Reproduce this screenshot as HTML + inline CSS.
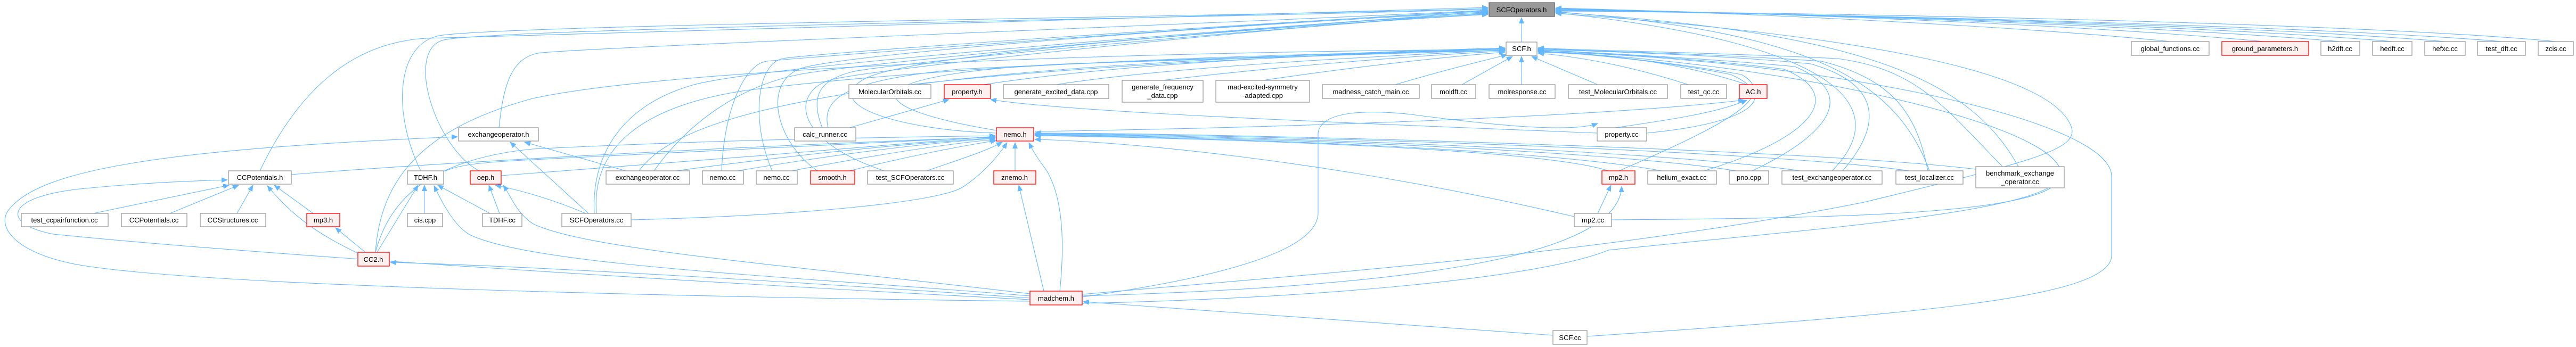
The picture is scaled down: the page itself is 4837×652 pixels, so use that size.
<!DOCTYPE html>
<html><head><meta charset="utf-8"><style>
html,body{margin:0;padding:0;background:#fff;}
svg{display:block;}
text{font-family:"Liberation Sans","DejaVu Sans",sans-serif;font-size:13px;fill:#000;text-anchor:middle;}
.e{fill:none;stroke:#63b8ff;stroke-width:1.1;marker-end:url(#a);}
.n{fill:#fff;stroke:#999;stroke-width:1.3;}
.r{fill:#fff0f0;stroke:#f00;stroke-width:1.3;}
.g{fill:#999;stroke:#666;stroke-width:1.3;}
</style></head><body>
<svg width="4837" height="652" viewBox="0 0 4837 652" xmlns="http://www.w3.org/2000/svg">
<defs><marker id="a" markerUnits="userSpaceOnUse" markerWidth="12" markerHeight="10" refX="11" refY="5" orient="auto"><path d="M0,0 L12,5 L0,10 z" fill="#63b8ff"/></marker></defs>

<!-- edges to SCFOperators.h -->
<path class="e" d="M2857,79 L2857,33"/>
<path class="e" d="M488,321 C560,170 660,80 800,72 S2400,30 2794,14"/>
<path class="e" d="M790,321 C740,220 740,90 820,68 S2400,30 2794,16"/>
<path class="e" d="M900,321 C820,280 760,100 830,76 S2400,32 2794,17"/>
<path class="e" d="M937,240 C945,160 960,110 1010,100 S2400,40 2794,19"/>
<path class="e" d="M1116,401 C1110,300 1160,200 1300,160 S2400,50 2794,22"/>
<path class="e" d="M1355,321 C1360,200 1400,120 1440,115 S2400,40 2794,20"/>
<path class="e" d="M1450,321 C1410,230 1420,120 1470,110 S2400,40 2794,21"/>
<path class="e" d="M1535,321 C1460,270 1430,160 1500,130 S2400,40 2794,23"/>
<path class="e" d="M1660,321 C1480,260 1490,170 1560,150 S2400,50 2794,24"/>
<path class="e" d="M1228,321 C1300,220 1400,160 1500,140 S2400,45 2794,25"/>
<path class="e" d="M1544,240 C1520,180 1540,150 1600,135 S2400,50 2794,26"/>
<path class="e" d="M1871,250 C1700,245 1540,200 1620,150 S2400,50 2794,27"/>
<path class="e" d="M4075,78 C3800,50 3300,25 2921,15"/>
<path class="e" d="M4250,78 C3900,45 3300,24 2921,16"/>
<path class="e" d="M4394,78 C4000,45 3300,24 2921,17"/>
<path class="e" d="M4492,78 C4100,45 3300,24 2921,18"/>
<path class="e" d="M4591,78 C4200,45 3300,24 2921,19"/>
<path class="e" d="M4697,78 C4300,45 3300,24 2921,20"/>
<path class="e" d="M4799,78 C4400,40 3300,22 2921,21"/>
<path class="e" d="M3623,321 C3560,150 3400,60 2921,22"/>
<path class="e" d="M3790,313 C3700,150 3500,60 2921,23"/>
<path class="e" d="M3440,321 C3560,200 3450,80 2921,24"/>
<path class="e" d="M2032,553 C2400,520 3000,480 3500,380 C3830,300 3900,280 3890,240 C3850,120 3400,60 2921,25"/>

<!-- edges to SCF.h -->
<path class="e" d="M1720,159 C2000,120 2500,100 2826,90"/>
<path class="e" d="M1847,159 C2100,120 2500,100 2826,92"/>
<path class="e" d="M1983,159 C2200,125 2600,105 2826,94"/>
<path class="e" d="M2183,151 C2400,125 2650,105 2826,96"/>
<path class="e" d="M2371,151 C2550,125 2700,108 2826,98"/>
<path class="e" d="M2620,159 C2700,135 2780,115 2830,103"/>
<path class="e" d="M2745,159 L2840,106"/>
<path class="e" d="M2857,159 L2857,106"/>
<path class="e" d="M3000,159 L2876,106"/>
<path class="e" d="M3170,159 C3050,120 2950,105 2888,100"/>
<path class="e" d="M3280,159 C3150,115 3000,100 2888,97"/>
<path class="e" d="M1120,401 C1110,280 1200,200 1400,170 C1800,120 2400,100 2826,95"/>
<path class="e" d="M705,474 C715,330 800,240 1000,185 C1300,120 2300,95 2826,93"/>
<path class="e" d="M1555,240 C1540,180 1600,150 1800,130 C2200,110 2600,100 2826,91"/>
<path class="e" d="M1871,245 C1600,200 1600,140 2000,120 C2400,105 2700,98 2826,94"/>
<path class="e" d="M1200,321 C1250,250 1400,200 1700,160 C2100,115 2600,100 2826,92"/>
<path class="e" d="M3092,250 C3300,230 3340,180 3250,140 C3100,110 2950,100 2888,96"/>
<path class="e" d="M3040,321 C3250,230 3340,180 3270,140 C3100,110 2950,100 2888,95"/>
<path class="e" d="M3200,321 C3400,260 3470,180 3350,130 C3150,105 2950,98 2888,94"/>
<path class="e" d="M3290,321 C3420,260 3500,180 3370,125 C3150,105 2950,98 2888,93"/>
<path class="e" d="M3460,321 C3530,240 3540,160 3400,120 C3200,100 2950,96 2888,92"/>
<path class="e" d="M3620,321 C3600,220 3560,150 3420,115 C3200,100 2950,95 2888,91"/>
<path class="e" d="M3760,313 C3650,200 3600,130 3450,110 C3200,98 2950,94 2888,90"/>
<path class="e" d="M2980,632 C3600,590 3965,560 3965,480 L3965,330 C3960,220 3400,110 2888,97"/>
<path class="e" d="M3026,413 C3500,410 3860,400 3870,330 C3880,230 3300,110 2888,98"/>
<path class="e" d="M2032,558 C2300,520 2475,470 2475,400 L2475,250 C2480,210 2560,205 2650,215 C2800,235 2950,250 3000,232"/>

<!-- edges to nemo.h -->
<path class="e" d="M547,328 C900,300 1500,270 1869,258"/>
<path class="e" d="M835,322 C860,310 900,305 1000,300 C1400,280 1700,265 1869,257"/>
<path class="e" d="M941,330 C1200,310 1600,280 1869,256"/>
<path class="e" d="M1185,413 C1500,405 1770,380 1810,350 C1840,330 1870,300 1891,268"/>
<path class="e" d="M1270,321 C1500,290 1700,270 1869,259"/>
<path class="e" d="M1385,321 C1600,285 1750,268 1869,260"/>
<path class="e" d="M1487,321 C1650,290 1780,270 1869,262"/>
<path class="e" d="M1595,321 C1700,295 1800,275 1871,264"/>
<path class="e" d="M1740,321 C1800,300 1850,285 1882,267"/>
<path class="e" d="M1906,321 L1906,268"/>
<path class="e" d="M1990,547 C2000,450 1995,370 1965,320 C1950,300 1940,285 1932,268"/>
<path class="e" d="M3020,321 C2900,280 2300,260 1943,255"/>
<path class="e" d="M3120,321 C2900,280 2300,258 1943,254"/>
<path class="e" d="M3260,321 C3000,280 2300,256 1943,253"/>
<path class="e" d="M3380,321 C3100,280 2300,254 1943,252"/>
<path class="e" d="M3585,321 C3300,280 2300,252 1943,251"/>
<path class="e" d="M3710,318 C3400,280 2300,250 1943,250"/>
<path class="e" d="M2956,407 C2500,300 2100,265 1943,262"/>
<path class="e" d="M705,474 C730,380 800,300 1000,280 C1400,260 1700,258 1869,255"/>

<!-- property.h / AC.h -->
<path class="e" d="M1595,240 L1782,187"/>
<path class="e" d="M2999,250 C2500,230 2000,210 1860,187"/>
<path class="e" d="M2999,245 C3100,230 3220,215 3280,188"/>
<path class="e" d="M1943,247 C2400,240 3000,220 3275,188"/>

<!-- exchangeoperator.h -->
<path class="e" d="M1105,401 L958,267"/>
<path class="e" d="M1175,321 L985,267"/>
<path class="e" d="M1934,566 C1400,560 400,540 150,498 C20,475 -10,420 20,390 C80,320 300,280 859,257"/>

<!-- CCPotentials.h -->
<path class="e" d="M175,401 L430,348"/>
<path class="e" d="M319,401 L448,348"/>
<path class="e" d="M445,401 L475,348"/>
<path class="e" d="M588,401 L515,348"/>
<path class="e" d="M672,476 C620,450 560,420 502,349"/>
<path class="e" d="M1934,563 C1300,530 500,480 100,440 C0,420 10,370 150,355 C250,345 350,340 427,338"/>

<!-- TDHF.h / oep.h -->
<path class="e" d="M797,401 L797,348"/>
<path class="e" d="M920,401 L822,348"/>
<path class="e" d="M708,474 L785,348"/>
<path class="e" d="M1934,556 C1500,520 1000,500 880,440 C850,420 830,380 815,349"/>
<path class="e" d="M938,401 L918,348"/>
<path class="e" d="M1100,401 C1050,380 990,360 930,348"/>
<path class="e" d="M1934,552 C1500,500 1100,470 1000,420 C970,400 960,370 945,348"/>

<!-- CC2.h / mp3 / madchem / znemo / mp2.h -->
<path class="e" d="M686,474 L630,428"/>
<path class="e" d="M1934,560 C1500,530 1000,500 733,493"/>
<path class="e" d="M1960,547 L1913,348"/>
<path class="e" d="M3000,401 L3025,348"/>
<path class="e" d="M2032,556 C2600,540 3040,490 3045,350"/>
<path class="e" d="M2916,630 L2034,567"/>
<path class="e" d="M2032,570 C2500,560 2900,520 3020,470 C3400,430 3850,400 3870,330"/>

<!-- nodes -->
<rect class="g" x="2796" y="5" width="123" height="26"/><text x="2857" y="23">SCFOperators.h</text>
<rect class="n" x="2828" y="79" width="58" height="25"/><text x="2857" y="96">SCF.h</text>
<rect class="n" x="1594" y="159" width="154" height="26"/><text x="1671" y="177">MolecularOrbitals.cc</text>
<rect class="r" x="1773" y="159" width="87" height="26"/><text x="1816" y="177">property.h</text>
<rect class="n" x="1884" y="159" width="198" height="26"/><text x="1983" y="177">generate_excited_data.cpp</text>
<rect class="n" x="2107" y="151" width="152" height="41"/><text x="2183" y="168">generate_frequency</text><text x="2183" y="184">_data.cpp</text>
<rect class="n" x="2283" y="151" width="176" height="41"/><text x="2371" y="168">mad-excited-symmetry</text><text x="2371" y="184">-adapted.cpp</text>
<rect class="n" x="2483" y="159" width="182" height="26"/><text x="2574" y="177">madness_catch_main.cc</text>
<rect class="n" x="2688" y="159" width="83" height="26"/><text x="2729" y="177">moldft.cc</text>
<rect class="n" x="2796" y="159" width="124" height="26"/><text x="2858" y="177">molresponse.cc</text>
<rect class="n" x="2945" y="159" width="186" height="26"/><text x="3038" y="177">test_MolecularOrbitals.cc</text>
<rect class="n" x="3156" y="159" width="86" height="26"/><text x="3199" y="177">test_qc.cc</text>
<rect class="r" x="3266" y="159" width="52" height="26"/><text x="3292" y="177">AC.h</text>
<rect class="n" x="4002" y="78" width="146" height="26"/><text x="4075" y="96">global_functions.cc</text>
<rect class="r" x="4172" y="78" width="163" height="26"/><text x="4253" y="96">ground_parameters.h</text>
<rect class="n" x="4358" y="78" width="73" height="26"/><text x="4394" y="96">h2dft.cc</text>
<rect class="n" x="4455" y="78" width="74" height="26"/><text x="4492" y="96">hedft.cc</text>
<rect class="n" x="4553" y="78" width="76" height="26"/><text x="4591" y="96">hefxc.cc</text>
<rect class="n" x="4652" y="78" width="90" height="26"/><text x="4697" y="96">test_dft.cc</text>
<rect class="n" x="4766" y="78" width="66" height="26"/><text x="4799" y="96">zcis.cc</text>
<rect class="n" x="861" y="240" width="150" height="25"/><text x="936" y="257">exchangeoperator.h</text>
<rect class="n" x="1492" y="240" width="115" height="25"/><text x="1549" y="257">calc_runner.cc</text>
<rect class="r" x="1871" y="240" width="70" height="25"/><text x="1906" y="257">nemo.h</text>
<rect class="n" x="2999" y="240" width="93" height="25"/><text x="3045" y="257">property.cc</text>
<rect class="n" x="429" y="321" width="118" height="25"/><text x="488" y="338">CCPotentials.h</text>
<rect class="n" x="765" y="321" width="68" height="25"/><text x="799" y="338">TDHF.h</text>
<rect class="r" x="883" y="321" width="58" height="25"/><text x="912" y="338">oep.h</text>
<rect class="n" x="1138" y="321" width="157" height="25"/><text x="1216" y="338">exchangeoperator.cc</text>
<rect class="n" x="1319" y="321" width="77" height="25"/><text x="1357" y="338">nemo.cc</text>
<rect class="n" x="1420" y="321" width="77" height="25"/><text x="1458" y="338">nemo.cc</text>
<rect class="r" x="1522" y="321" width="83" height="25"/><text x="1563" y="338">smooth.h</text>
<rect class="n" x="1629" y="321" width="161" height="25"/><text x="1709" y="338">test_SCFOperators.cc</text>
<rect class="r" x="1866" y="321" width="79" height="25"/><text x="1905" y="338">znemo.h</text>
<rect class="r" x="3008" y="321" width="62" height="25"/><text x="3039" y="338">mp2.h</text>
<rect class="n" x="3094" y="321" width="129" height="25"/><text x="3158" y="338">helium_exact.cc</text>
<rect class="n" x="3247" y="321" width="74" height="25"/><text x="3284" y="338">pno.cpp</text>
<rect class="n" x="3346" y="321" width="188" height="25"/><text x="3440" y="338">test_exchangeoperator.cc</text>
<rect class="n" x="3560" y="321" width="126" height="25"/><text x="3623" y="338">test_localizer.cc</text>
<rect class="n" x="3710" y="313" width="166" height="40"/><text x="3793" y="330">benchmark_exchange</text><text x="3793" y="346">_operator.cc</text>
<rect class="n" x="40" y="401" width="163" height="25"/><text x="121" y="418">test_ccpairfunction.cc</text>
<rect class="n" x="228" y="401" width="123" height="25"/><text x="289" y="418">CCPotentials.cc</text>
<rect class="n" x="376" y="401" width="123" height="25"/><text x="437" y="418">CCStructures.cc</text>
<rect class="r" x="576" y="401" width="62" height="25"/><text x="607" y="418">mp3.h</text>
<rect class="n" x="765" y="401" width="66" height="25"/><text x="798" y="418">cis.cpp</text>
<rect class="n" x="906" y="401" width="74" height="25"/><text x="943" y="418">TDHF.cc</text>
<rect class="n" x="1055" y="401" width="130" height="25"/><text x="1120" y="418">SCFOperators.cc</text>
<rect class="n" x="2956" y="401" width="70" height="25"/><text x="2991" y="418">mp2.cc</text>
<rect class="r" x="672" y="474" width="59" height="26"/><text x="701" y="492">CC2.h</text>
<rect class="r" x="1934" y="547" width="98" height="26"/><text x="1983" y="565">madchem.h</text>
<rect class="n" x="2916" y="621" width="64" height="26"/><text x="2948" y="639">SCF.cc</text>
</svg>
</body></html>
